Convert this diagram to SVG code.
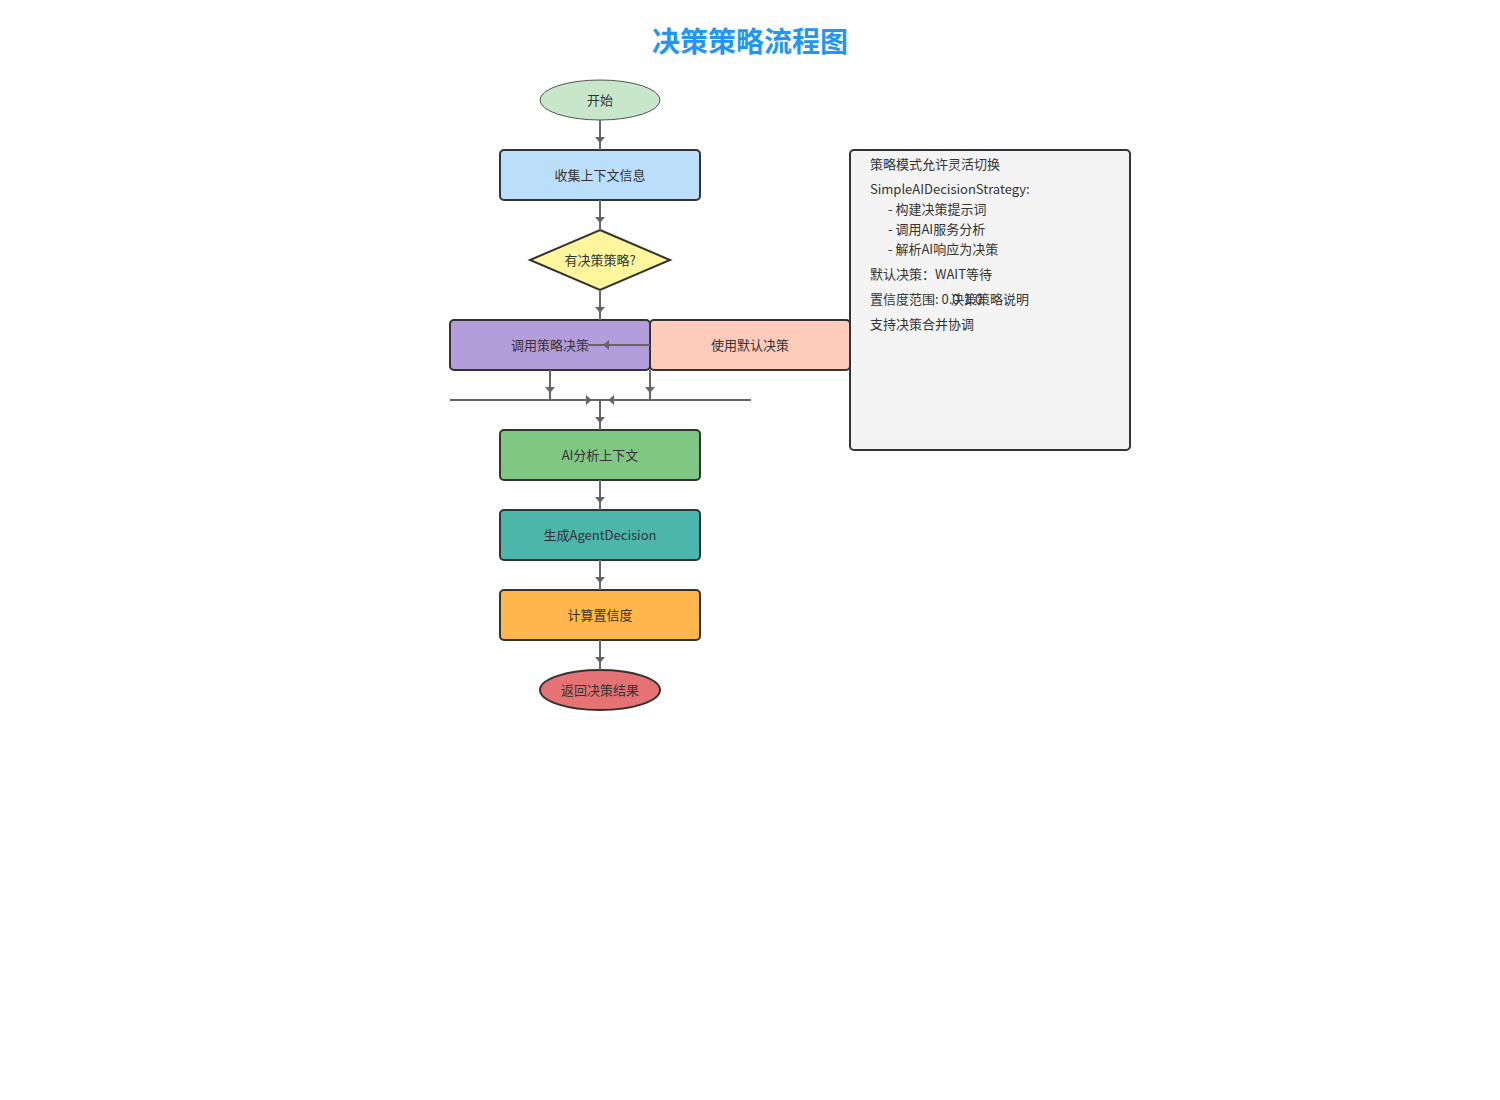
<svg xmlns="http://www.w3.org/2000/svg" width="1500" height="1100" viewBox="0 0 1500 1100">
<defs>
<style>
text{font-family:"Noto Sans CJK SC","Noto Sans",sans-serif;fill:#333;}
.t{font-size:13px;text-anchor:middle;dominant-baseline:central;}
.n{stroke:#333;stroke-width:2;}
.c{fill:none;stroke:#666;stroke-width:2;marker-mid:url(#ah);}
.p{font-size:13px;}
</style>
<marker id="ah" markerUnits="userSpaceOnUse" viewBox="0 0 6 10" markerWidth="6" markerHeight="10" refX="6" refY="5" orient="auto">
<path d="M0,0 L6,5 L0,10 z" fill="#666"/>
</marker>
</defs>
<rect width="1500" height="1100" fill="#fff"/>
<text x="750" y="40" text-anchor="middle" dominant-baseline="central" font-size="28" font-weight="bold" style="fill:#2196F3">决策策略流程图</text>

<g id="start"><ellipse cx="600" cy="100" rx="60" ry="20" fill="#C8E6C9" stroke="#555" stroke-width="1"/><text class="t" x="600" y="99">开始</text></g>
<g id="collect"><rect class="n" x="500" y="150" width="200" height="50" rx="4" fill="#BBDEFB"/><text class="t" x="600" y="174">收集上下文信息</text></g>
<g id="hasStrategy"><polygon class="n" points="600,230 670,260 600,290 530,260" fill="#FFF59D"/><text class="t" x="600" y="259">有决策策略?</text></g>
<g id="callStrategy"><rect class="n" x="450" y="320" width="200" height="50" rx="4" fill="#B39DDB"/><text class="t" x="550" y="344">调用策略决策</text></g>
<g id="defaultDecision"><rect class="n" x="650" y="320" width="200" height="50" rx="4" fill="#FFCCBC"/><text class="t" x="750" y="344">使用默认决策</text></g>
<g id="aiAnalyze"><rect class="n" x="500" y="430" width="200" height="50" rx="4" fill="#81C784"/><text class="t" x="600" y="454">AI分析上下文</text></g>
<g id="generate"><rect class="n" x="500" y="510" width="200" height="50" rx="4" fill="#4DB6AC"/><text class="t" x="600" y="534">生成AgentDecision</text></g>
<g id="confidence"><rect class="n" x="500" y="590" width="200" height="50" rx="4" fill="#FFB74D"/><text class="t" x="600" y="614">计算置信度</text></g>
<g id="end"><ellipse class="n" cx="600" cy="690" rx="60" ry="20" fill="#E57373"/><text class="t" x="600" y="689">返回决策结果</text></g>

<g id="notes">
<rect class="n" x="850" y="150" width="280" height="300" rx="4" fill="#F4F4F4"/>
<text class="p" x="870" y="169">策略模式允许灵活切换</text>
<text class="p" x="870" y="194">SimpleAIDecisionStrategy:</text>
<text class="p" x="888" y="214">- 构建决策提示词</text>
<text class="p" x="888" y="234">- 调用AI服务分析</text>
<text class="p" x="888" y="254">- 解析AI响应为决策</text>
<text class="p" x="870" y="279">默认决策：WAIT等待</text>
<text class="p" x="870" y="304">置信度范围: 0.0-1.0</text>
<text class="p" x="990" y="304" text-anchor="middle">决策策略说明</text>
<text class="p" x="870" y="329">支持决策合并协调</text>
</g>

<g id="connectors">
<path class="c" d="M600,120 L600,143 L600,150"/>
<path class="c" d="M600,200 L600,223 L600,230"/>
<path class="c" d="M600,290 L600,313 L600,320"/>
<path class="c" d="M650,345 L603,345 L588,345"/>
<path class="c" d="M550,370 L550,393 L550,400"/>
<path class="c" d="M650,370 L650,393 L650,400"/>
<path class="c" d="M450,400 L592,400 L600,400"/>
<path class="c" d="M751,400 L608,400 L600,400"/>
<path class="c" d="M600,400 L600,423 L600,430"/>
<path class="c" d="M600,480 L600,503 L600,510"/>
<path class="c" d="M600,560 L600,583 L600,590"/>
<path class="c" d="M600,640 L600,663 L600,670"/>
</g>
</svg>
